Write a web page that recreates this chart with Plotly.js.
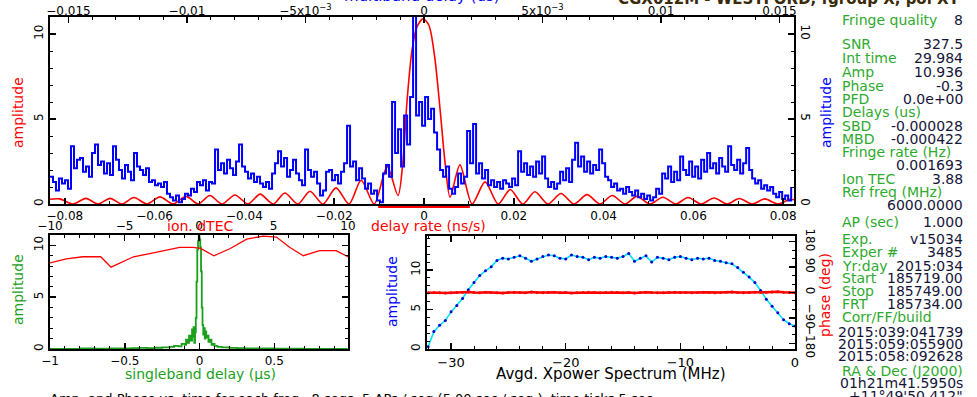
<!DOCTYPE html>
<html><head><meta charset="utf-8">
<script src="https://cdn.plot.ly/plotly-3.0.1.min.js"></script>
<style>html,body{margin:0;padding:0;background:#fff;}#chart{width:977px;height:397px;}</style>
</head><body><div id="chart"></div>
<script>
// ---------------- DATA ----------------
// Top panel, red: delay-rate function (delay rate ns/s, amplitude)
const rateX = [-0.0833,-0.0811,-0.0782,-0.0753,-0.0726,-0.0699,-0.0673,-0.0646,-0.0617,-0.0588,-0.0559,-0.0530,-0.0503,-0.0477,-0.0450,-0.0421,-0.0392,-0.0365,-0.0336,-0.0310,-0.0281,-0.0254,-0.0225,-0.0196,-0.0167,-0.0140,-0.0111,-0.0082,-0.0058,-0.0047,-0.0038,-0.0027,-0.0016,-0.0002,0.0011,0.0024,0.0036,0.0047,0.0058,0.0080,0.0107,0.0136,0.0165,0.0192,0.0220,0.0247,0.0276,0.0305,0.0334,0.0363,0.0392,0.0419,0.0448,0.0474,0.0503,0.0532,0.0561,0.0588,0.0617,0.0646,0.0675,0.0702,0.0731,0.0759,0.0788,0.0815,0.0824];
const rateAmp = [0.28,0.30,0.0,0.33,0.0,0.33,0.0,0.38,0.0,0.42,0.0,0.45,0.0,0.50,0.0,0.53,0.0,0.58,0.0,0.65,0.0,0.75,0.0,0.95,0.0,1.4,0.0,2.2,0.5,2.5,6.0,9.0,10.4,10.9,10.5,8.6,5.5,2.4,0.4,2.3,0.0,1.3,0.0,0.85,0.0,0.72,0.0,0.62,0.0,0.55,0.0,0.50,0.0,0.45,0.0,0.40,0.0,0.38,0.0,0.35,0.0,0.32,0.0,0.30,0.0,0.28,0.25];
// Top panel, blue: multiband delay function, sampled on a regular delay grid (us)
const mbdStart = -0.01578;
const mbdStep = 0.0001266;
const mbdAmp = [
1.6,1.3,0.8,1.5,1.2,1.4,0.9,3.4,2.1,2.6,
2.7,1.9,2.2,1.6,3.0,3.5,2.3,2.5,1.8,2.4,
1.7,3.4,2.6,2.0,1.5,2.3,1.9,1.4,3.0,2.2,
2.0,1.7,2.1,1.3,1.4,1.1,1.2,1.0,1.3,0.6,
0.4,0.2,0.5,0.1,0.3,0.6,0.5,0.9,0.7,1.3,
1.1,1.4,0.8,1.3,1.2,3.2,2.0,2.4,1.8,2.6,
2.1,1.7,2.5,3.5,2.2,1.9,1.5,1.8,1.3,1.6,
1.2,1.0,1.3,0.9,1.8,2.4,3.1,2.2,2.7,1.6,
2.0,2.6,1.8,1.4,1.1,3.2,2.0,1.6,1.9,1.2,
0.5,0.8,1.9,2.0,1.4,1.7,1.2,1.9,2.4,4.6,
2.2,2.5,1.4,2.1,1.5,0.9,1.2,0.6,0.8,0.2,
0.1,1.8,2.3,1.6,6.0,3.0,4.4,2.2,5.2,3.5,
6.3,11.5,5.2,6.0,4.6,6.3,5.0,5.6,4.2,3.2,
2.0,1.6,2.2,0.9,0.6,1.0,1.8,1.2,1.6,4.3,
2.4,4.7,1.8,2.4,1.5,2.0,1.1,1.4,1.0,1.3,
0.9,1.4,1.2,1.0,1.5,1.1,3.1,1.9,2.4,1.7,
2.2,1.6,2.5,1.8,2.8,1.5,1.0,1.3,0.9,1.2,
1.9,1.4,2.1,1.3,2.6,3.6,2.2,2.8,1.9,2.5,
1.8,2.3,2.0,3.2,2.4,1.6,1.4,1.0,1.2,0.8,
0.9,0.6,1.0,0.7,0.5,0.8,0.4,0.6,0.3,0.5,
0.2,0.4,0.9,0.6,1.8,1.5,2.2,1.3,1.9,1.4,
2.8,2.0,1.7,2.5,1.6,2.2,1.5,2.6,1.9,3.0,
2.1,2.4,1.8,2.7,2.2,1.9,3.4,2.3,2.0,2.6,
1.8,2.4,3.3,2.0,1.5,1.2,1.4,0.9,1.1,0.8,
1.0,0.6,0.4,0.7,0.3,0.5,0.2,1.0];
const rateWindow = [-0.0102, 0.0102];
const mbdTickVals = [-0.015,-0.01,-0.005,0,0.005,0.01,0.015];
const mbdTickText = ["\u22120.015","\u22120.01","\u22125x10<sup>\u22123</sup>","0","5x10<sup>\u22123</sup>","0.01","0.015"];

// Bottom-left: singleband delay (us) vs amplitude (green)
const sbdX = [-1.0,-0.9,-0.8,-0.7,-0.6,-0.5,-0.45,-0.4,-0.35,-0.3,-0.25,-0.2,-0.17,-0.14,-0.12,-0.1,-0.09,-0.08,-0.07,-0.06,-0.05,-0.045,-0.04,-0.035,-0.03,-0.025,-0.02,-0.015,-0.01,-0.005,0.0,0.005,0.01,0.015,0.02,0.025,0.03,0.035,0.04,0.045,0.05,0.06,0.07,0.08,0.09,0.1,0.12,0.15,0.2,0.25,0.3,0.4,0.5,0.6,0.7,0.8,0.9,0.99];
const sbdAmp = [0.0,0.02,0.05,0.03,0.06,0.05,0.08,0.1,0.08,0.12,0.15,0.2,0.3,0.25,0.5,0.4,0.9,0.6,1.3,0.8,1.9,1.2,2.1,0.6,1.6,3.0,6.5,9.6,10.4,11.0,10.6,9.8,7.5,4.0,2.3,1.4,2.0,1.0,1.7,1.1,1.3,0.7,0.9,0.4,0.5,0.3,0.2,0.15,0.1,0.08,0.06,0.05,0.04,0.03,0.02,0.02,0.01,0.01];
// Bottom-left: ion. dTEC search (red)
const tecX = [-10,-8.9,-7.8,-6.6,-5.9,-4.4,-3.3,-2.2,-1.3,-0.4,0.1,1.0,2.1,3.2,4.3,5.2,6.1,7.0,8.1,9.2,10];
const tecAmp = [8.3,8.7,8.9,8.9,7.9,8.9,9.2,9.5,9.8,9.8,9.7,9.0,9.7,10.6,10.9,10.8,9.8,9.0,9.5,9.5,8.9];

// Bottom-right: averaged cross-power spectrum
const specMHz = [-32,-31.5,-31,-30.5,-30,-29.5,-29,-28.5,-28,-27.5,-27,-26.5,-26,-25.5,-25,-24.5,-24,-23.5,-23,-22.5,-22,-21.5,-21,-20.5,-20,-19.5,-19,-18.5,-18,-17.5,-17,-16.5,-16,-15.5,-15,-14.5,-14,-13.5,-13,-12.5,-12,-11.5,-11,-10.5,-10,-9.5,-9,-8.5,-8,-7.5,-7,-6.5,-6,-5.5,-5,-4.5,-4,-3.5,-3,-2.5,-2,-1.5,-1,-0.5,0];
const specAmp = [0.3,2.2,3.0,3.6,4.7,5.5,6.4,7.5,8.4,9.3,9.9,10.4,11.2,11.5,11.4,11.6,11.8,11.5,11.1,11.4,11.7,11.9,11.8,11.5,11.4,11.9,11.7,11.6,11.3,11.6,11.5,11.7,11.6,11.5,11.7,12.1,11.1,11.5,11.8,11.0,11.6,11.5,11.3,11.6,11.7,11.5,11.3,11.5,11.4,11.5,11.2,11.1,10.9,10.8,10.3,9.7,9.1,8.4,7.4,6.3,5.4,4.6,3.7,3.2,2.9];
const specPhase = [-1,0,-1,-2,-1,0,1,2,0,-1,1,0,-1,-2,0,1,0,-1,2,0,-1,0,1,-1,0,-2,-1,0,1,0,-1,0,1,0,-1,0,-2,0,1,0,-1,-1,0,1,0,0,-1,0,1,0,-1,0,1,2,0,-1,0,1,0,1,2,3,1,0,-1];

// Right-hand info panel
const infoLabels = ["Fringe quality","SNR","Int time","Amp","Phase","PFD","Delays (us)","SBD","MBD","Fringe rate (Hz)","","Ion TEC","Ref freq (MHz)","","AP (sec)","Exp.","Exper #","Yr:day","Start","Stop","FRT","Corr/FF/build","","","","RA & Dec (J2000)","",""];
const infoValues = ["8","327.5","29.984","10.936","-0.3","0.0e+00","","-0.000028","-0.000422","","0.001693","3.88","","6000.0000","1.000","v15034","3485","2015:034","185719.00","185749.00","185734.00","","2015:039:041739","2015:059:055900","2015:058:092628","","01h21m41.5950s","+11\u00b049'50.412\""];
const plotTitle = "CGX012M - WESTFORD, fgroup X, pol XY";
const footText = "Amp. and Phase vs. time for each freq., 8 segs, 5 APs / seg (5.00 sec / seg.), time ticks 5 sec";

// ---------------- LAYOUT ----------------
const W = 977, H = 397;
const px = x => x / W;
const py = y => 1 - y / H;
const infoRowY = [20,44,58,72,86,99,112,126,139,152,165,179,192,205,222,239,252,266,278,291,304,317,332,344,356,371,383,396];

const RED = '#ff0000', BLUE = '#0000ff', GREEN = '#1aa01a', CYAN = '#00e0ff';
const FONT = 'DejaVu Sans';

const base = {showline:true, linecolor:'black', linewidth:2, ticks:'inside', ticklen:6, tickwidth:1.5,
  tickcolor:'black', showgrid:false, zeroline:false, fixedrange:true,
  tickfont:{family:FONT, size:12, color:'black'}};
const minor = d => ({ticks:'inside', tickmode:'linear', tick0:0, dtick:d, ticklen:3, tickwidth:1, tickcolor:'black', showgrid:false});

const mbdX = mbdAmp.map((_, i) => mbdStart + i * mbdStep);

const traces = [
  {x: rateX, y: rateAmp, xaxis:'x', yaxis:'y', mode:'lines', line:{color:RED, width:1.6, shape:'spline', smoothing:0.8}, hoverinfo:'skip'},
  {x: mbdX, y: mbdAmp, xaxis:'x2', yaxis:'y2', mode:'lines', line:{color:BLUE, width:2, shape:'hv'}, hoverinfo:'skip'},
  {x: tecX, y: tecAmp, xaxis:'x4', yaxis:'y3', mode:'lines', line:{color:RED, width:1.3}, hoverinfo:'skip'},
  {x: sbdX, y: sbdAmp, xaxis:'x3', yaxis:'y3', mode:'lines', line:{color:GREEN, width:1.8, shape:'hv'}, hoverinfo:'skip'},
  {x: specMHz, y: specPhase, xaxis:'x5', yaxis:'y6', mode:'lines+markers', line:{color:RED, width:2.5}, marker:{color:RED, size:3}, hoverinfo:'skip'},
  {x: specMHz, y: specAmp, xaxis:'x5', yaxis:'y5', mode:'lines+markers', line:{color:CYAN, width:1.6}, marker:{color:'#0000cc', size:3}, hoverinfo:'skip'}
];

const ann = (text, x, y, color, size, opts) => Object.assign({text, x:px(x), y:py(y), xref:'paper', yref:'paper',
  showarrow:false, font:{family:FONT, size, color}, xanchor:'center', yanchor:'middle'}, opts || {});

const annotations = [
  ann('multiband delay (us)', 422, 7, BLUE, 15, {yanchor:'bottom'}),
  ann(plotTitle, 963, 10, '#3a2a08', 15, {xanchor:'right', yanchor:'bottom', font:{family:FONT, size:15, color:'#3a2a08', weight:'bold'}}),
  ann('amplitude', 18, 113, RED, 14, {textangle:-90}),
  ann('amplitude', 826, 113, BLUE, 14, {textangle:-90}),
  ann('delay rate (ns/s)', 428, 226, RED, 14),
  ann('ion. dTEC', 200, 226, RED, 14),
  ann('amplitude', 18, 290, GREEN, 14, {textangle:-90}),
  ann('singleband delay (\u00b5s)', 200, 374, GREEN, 14),
  ann('amplitude', 392, 292, BLUE, 14, {textangle:-90}),
  ann('phase (deg)', 825, 295, RED, 14, {textangle:-90}),
  ann('Avgd. Xpower Spectrum (MHz)', 611, 374, 'black', 15),
  ann(footText, 48, 389, 'black', 13, {xanchor:'left', yanchor:'top'})
];
infoLabels.forEach((t, i) => { if (t) annotations.push(ann(t, 840, infoRowY[i], '#2eaa2e', 14, {xanchor:'left'})); });
infoValues.forEach((t, i) => { if (t) annotations.push(ann(t, 965, infoRowY[i], '#15153a', 14, {xanchor:'right'})); });

const layout = {
  width:W, height:H, autosize:false, margin:{l:0,r:0,t:0,b:0,pad:0},
  paper_bgcolor:'white', plot_bgcolor:'white', showlegend:false,
  font:{family:FONT, color:'black'},
  xaxis: Object.assign({}, base, {domain:[px(50),px(794)], anchor:'y', range:[-0.0833,0.0824], tick0:0, dtick:0.02, minor:minor(0.01)}),
  xaxis2: Object.assign({}, base, {overlaying:'x', side:'top', anchor:'y', range:[-0.01578,0.01561], tickmode:'array', tickvals:mbdTickVals, ticktext:mbdTickText, ticklabelstandoff:-5, minor:minor(0.001)}),
  yaxis: Object.assign({}, base, {domain:[py(204),py(17)], anchor:'x', range:[0,11], tick0:0, dtick:5, tickangle:-90, minor:minor(1)}),
  yaxis2: Object.assign({}, base, {overlaying:'y', side:'right', anchor:'x', range:[0,11], tick0:0, dtick:5, tickangle:90, minor:minor(1)}),
  xaxis3: Object.assign({}, base, {domain:[px(50),px(348)], anchor:'y3', range:[-1,0.993], tick0:0, dtick:0.5, minor:minor(0.1)}),
  xaxis4: Object.assign({}, base, {overlaying:'x3', side:'top', anchor:'y3', range:[-10,10], tick0:0, dtick:5, ticklabelstandoff:-2, minor:minor(1)}),
  yaxis3: Object.assign({}, base, {domain:[py(349),py(235)], anchor:'x3', range:[0,11], tick0:0, dtick:5, tickangle:-90, mirror:'ticks', minor:minor(1)}),
  xaxis5: Object.assign({}, base, {domain:[px(427),px(795)], anchor:'y5', range:[-32.1,0], tick0:0, dtick:10, mirror:'ticks', minor:minor(2), tickfont:{family:FONT, size:13, color:'black'}}),
  yaxis5: Object.assign({}, base, {domain:[py(349),py(236)], anchor:'x5', range:[0,14.3], tick0:0, dtick:5, tickangle:-90, minor:minor(1)}),
  yaxis6: Object.assign({}, base, {overlaying:'y5', side:'right', anchor:'x5', range:[-200,200], tickmode:'array', tickvals:[-180,-90,0,90,180], tickangle:90, ticklabelstandoff:4, minor:minor(30)}),
  shapes: [
    {type:'line', xref:'x', yref:'paper', x0:rateWindow[0], x1:rateWindow[1], y0:py(207), y1:py(207), line:{color:RED, width:2}}
  ],
  annotations
};

Plotly.newPlot('chart', traces, layout, {staticPlot:true, displayModeBar:false});
</script>
</body></html>
